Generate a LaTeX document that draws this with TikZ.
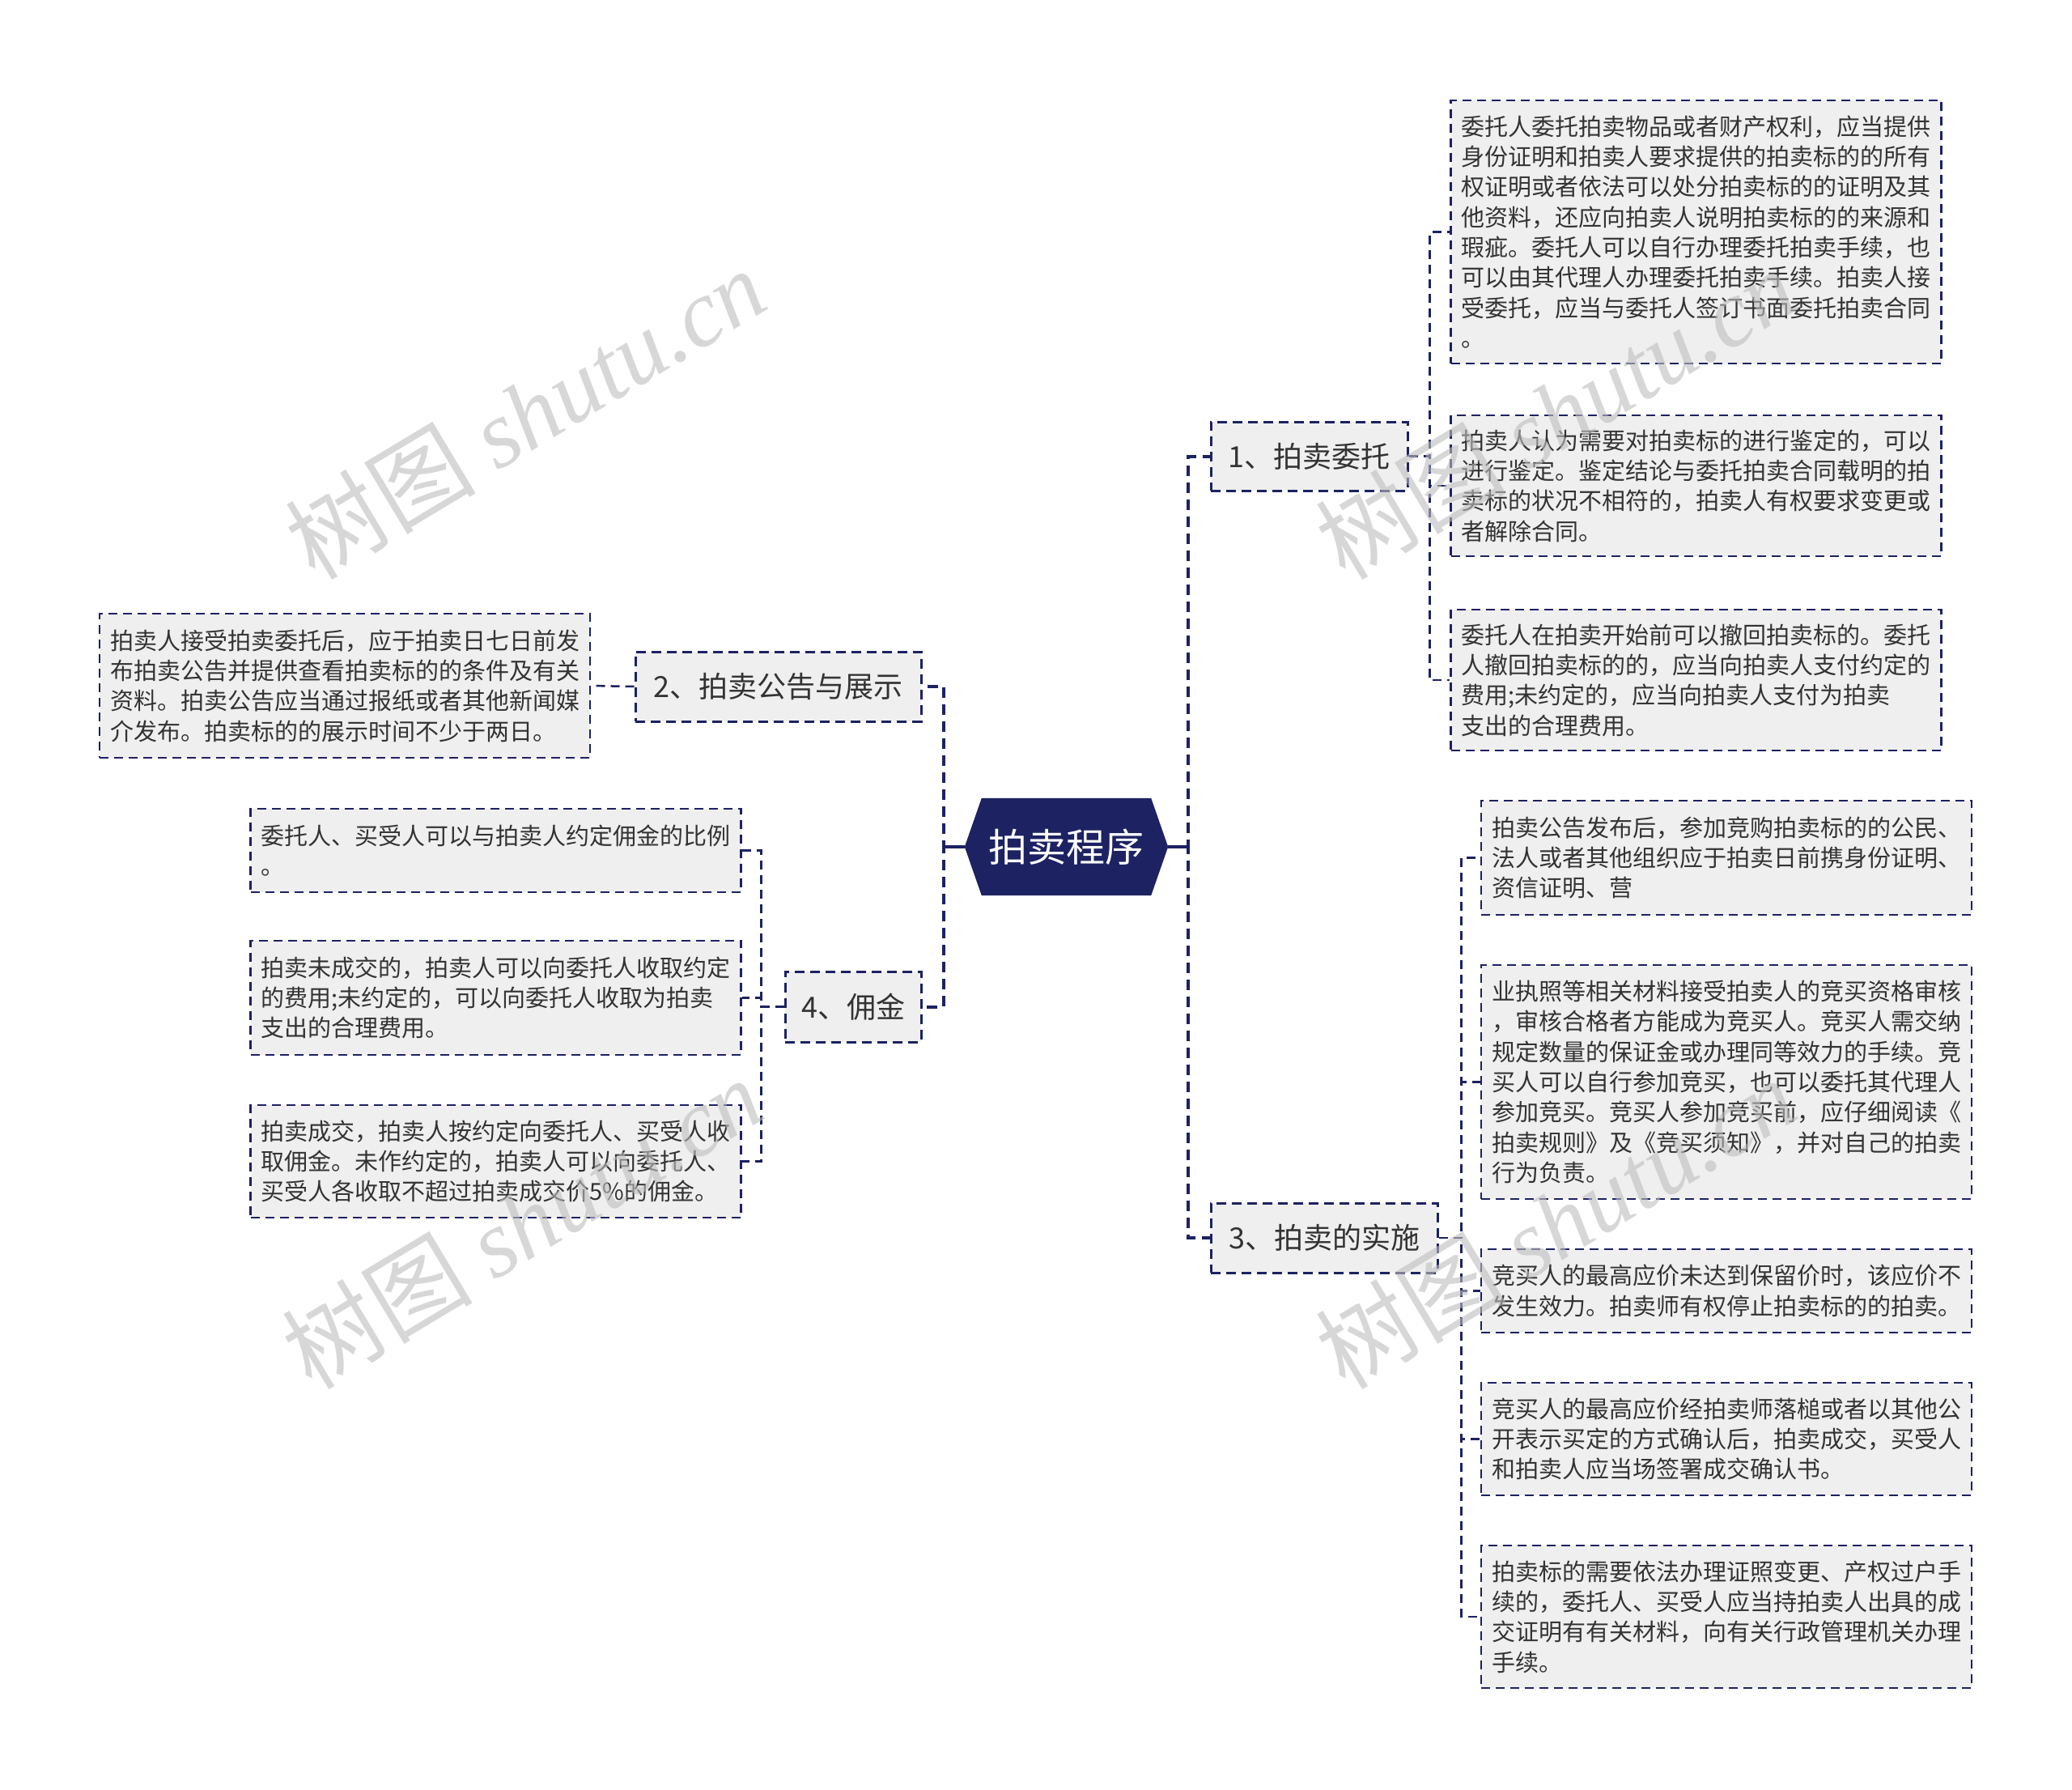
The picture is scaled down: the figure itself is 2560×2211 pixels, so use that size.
\documentclass[tikz,border=0pt]{standalone}
\usepackage{fontspec}
\setmainfont{Noto Sans CJK SC}
\newfontfamily\wmserif{Liberation Serif}
\usetikzlibrary{backgrounds}
\definecolor{navy}{HTML}{1C2262}
\definecolor{leafgray}{HTML}{EFEFEF}
\definecolor{txt}{HTML}{333333}
\definecolor{wm}{HTML}{BDBDBD}
\begin{document}
\begin{tikzpicture}[x=1pt,y=-1pt,
  leaf/.style={draw=navy, line width=2.5pt, dash pattern=on 11pt off 7pt, fill=leafgray, text=txt,
    text width=580pt, inner xsep=13pt, inner ysep=0pt, align=left, font=\fontsize{29}{37.3}\selectfont},
  topic/.style={draw=navy, line width=3pt, dash pattern=on 12pt off 7pt, fill=leafgray, text=txt,
    inner sep=0pt, font=\fontsize{36}{40}\selectfont},
  conn/.style={draw=navy, line width=2.5pt, dash pattern=on 11pt off 7pt},
  trunk/.style={draw=navy, line width=4pt, dash pattern=on 13pt off 8pt},
  stub/.style={draw=navy, line width=4pt},
  root/.style={inner sep=0pt, minimum width=251pt, minimum height=120pt, text=white,
    font=\fontsize{48}{50}\selectfont},
  watermark/.style={rotate=31, text=wm, opacity=0.6, font=\fontsize{118}{118}\selectfont}
]
\useasboundingbox (0,0) rectangle (2560,2211);

% root
\node[root] (c) at (1317.5,1046) {拍卖程序};
\begin{pgfonlayer}{background}
\fill[navy] (c.west) -- ([xshift=21pt]c.north west) -- ([xshift=-21pt]c.north east) -- (c.east)
  -- ([xshift=-21pt]c.south east) -- ([xshift=21pt]c.south west) -- cycle;
\end{pgfonlayer}

% topics
\node[topic, minimum width=243pt, minimum height=85pt] (n1) at (1617.5,563.5) {1、拍卖委托};
\node[topic, minimum width=353pt, minimum height=86pt] (n2) at (961.5,848) {2、拍卖公告与展示};
\node[topic, minimum width=280pt, minimum height=86pt] (n3) at (1636,1529) {3、拍卖的实施};
\node[topic, minimum width=168pt, minimum height=87pt] (n4) at (1054,1243.5) {4、佣金};

% leaves of 1
\node[leaf, minimum height=325pt] (l1a) at (2095.5,286.5) {委托人委托拍卖物品或者财产权利，应当提供\\身份证明和拍卖人要求提供的拍卖标的的所有\\权证明或者依法可以处分拍卖标的的证明及其\\他资料，还应向拍卖人说明拍卖标的的来源和\\瑕疵。委托人可以自行办理委托拍卖手续，也\\可以由其代理人办理委托拍卖手续。拍卖人接\\受委托，应当与委托人签订书面委托拍卖合同\\。};
\node[leaf, minimum height=174pt] (l1b) at (2095.5,600) {拍卖人认为需要对拍卖标的进行鉴定的，可以\\进行鉴定。鉴定结论与委托拍卖合同载明的拍\\卖标的状况不相符的，拍卖人有权要求变更或\\者解除合同。};
\node[leaf, minimum height=174pt] (l1c) at (2095.5,840) {委托人在拍卖开始前可以撤回拍卖标的。委托\\人撤回拍卖标的的，应当向拍卖人支付约定的\\费用;未约定的，应当向拍卖人支付为拍卖\\支出的合理费用。};

% leaf of 2
\node[leaf, minimum height=178pt] (l2a) at (426,847) {拍卖人接受拍卖委托后，应于拍卖日七日前发\\布拍卖公告并提供查看拍卖标的的条件及有关\\资料。拍卖公告应当通过报纸或者其他新闻媒\\介发布。拍卖标的的展示时间不少于两日。};

% leaves of 4
\node[leaf, minimum height=103pt] (l4a) at (612.5,1050.5) {委托人、买受人可以与拍卖人约定佣金的比例\\。};
\node[leaf, minimum height=141pt] (l4b) at (612.5,1232.5) {拍卖未成交的，拍卖人可以向委托人收取约定\\的费用;未约定的，可以向委托人收取为拍卖\\支出的合理费用。};
\node[leaf, minimum height=139pt] (l4c) at (612.5,1434.5) {拍卖成交，拍卖人按约定向委托人、买受人收\\取佣金。未作约定的，拍卖人可以向委托人、\\买受人各收取不超过拍卖成交价5\%的佣金。};

% leaves of 3
\node[leaf, minimum height=141pt] (l3a) at (2133,1059.5) {拍卖公告发布后，参加竞购拍卖标的的公民、\\法人或者其他组织应于拍卖日前携身份证明、\\资信证明、营};
\node[leaf, minimum height=289pt] (l3b) at (2133,1336.5) {业执照等相关材料接受拍卖人的竞买资格审核\\，审核合格者方能成为竞买人。竞买人需交纳\\规定数量的保证金或办理同等效力的手续。竞\\买人可以自行参加竞买，也可以委托其代理人\\参加竞买。竞买人参加竞买前，应仔细阅读《\\拍卖规则》及《竞买须知》，并对自己的拍卖\\行为负责。};
\node[leaf, minimum height=103pt] (l3c) at (2133,1594.5) {竞买人的最高应价未达到保留价时，该应价不\\发生效力。拍卖师有权停止拍卖标的的拍卖。};
\node[leaf, minimum height=139pt] (l3d) at (2133,1777.5) {竞买人的最高应价经拍卖师落槌或者以其他公\\开表示买定的方式确认后，拍卖成交，买受人\\和拍卖人应当场签署成交确认书。};
\node[leaf, minimum height=176pt] (l3e) at (2133,1997) {拍卖标的需要依法办理证照变更、产权过户手\\续的，委托人、买受人应当持拍卖人出具的成\\交证明有有关材料，向有关行政管理机关办理\\手续。};

% connectors from root
\draw[stub] (c.east) -- ++(25,0);
\draw[stub] (c.west) -- ++(-26,0);
\draw[trunk] (c.east) -- ++(25,0) |- (n1.west);
\draw[trunk] (c.east) -- ++(25,0) |- (n3.west);
\draw[trunk] (c.west) -- ++(-26,0) |- (n2.east);
\draw[trunk] (c.west) -- ++(-26,0) |- (n4.east);

% topic 1
\draw[conn] (n1.east) -- ++(26,0) |- (l1a.west);
\draw[conn] (n1.east) -- ++(26,0) |- (l1b.west);
\draw[conn] (n1.east) -- ++(26,0) |- (l1c.west);
% topic 2
\draw[conn] (n2.west) -- (l2a.east);
% topic 4
\draw[conn] (n4.west) -- ++(-28,0) |- (l4a.east);
\draw[conn] (n4.west) -- ++(-28,0) |- (l4b.east);
\draw[conn] (n4.west) -- ++(-28,0) |- (l4c.east);
% topic 3
\draw[conn] (n3.east) -- ++(28,0) |- (l3a.west);
\draw[conn] (n3.east) -- ++(28,0) |- (l3b.west);
\draw[conn] (n3.east) -- ++(28,0) |- (l3c.west);
\draw[conn] (n3.east) -- ++(28,0) |- (l3d.west);
\draw[conn] (n3.east) -- ++(28,0) |- (l3e.west);

% watermarks
\node[watermark] (w1) at (649,510) {树图 {\wmserif\itshape shutu.cn}};
\node[watermark] (w2) at (645,1510) {树图 {\wmserif\itshape shutu.cn}};
\node[watermark] (w3) at (1922,510) {树图 {\wmserif\itshape shutu.cn}};
\node[watermark] (w4) at (1922,1510) {树图 {\wmserif\itshape shutu.cn}};
\end{tikzpicture}
\end{document}
